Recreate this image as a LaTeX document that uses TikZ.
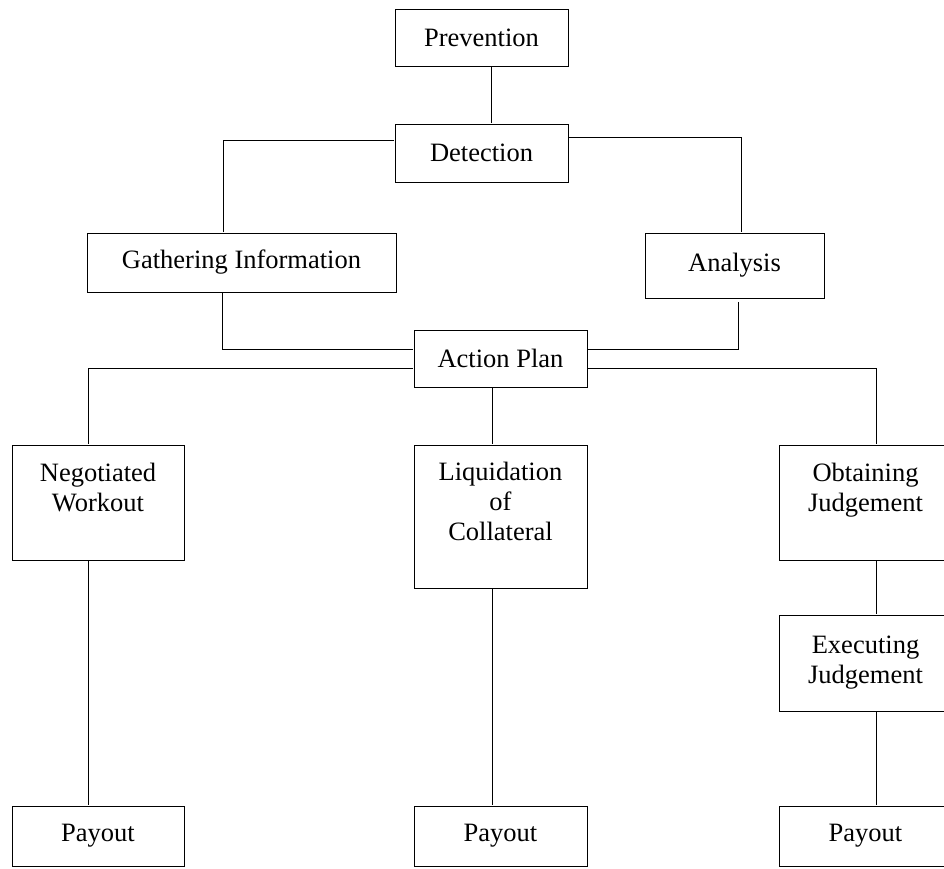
\documentclass[tikz,border=0pt]{standalone}
\usepackage{fontspec}
\setmainfont{Liberation Serif}
\newcommand{\dropdraw}[3]{%
  \draw ([xshift=#3]#1.south) -- ([xshift=#3]#2.north);
}
\usepackage{tikz}
\usetikzlibrary{
  calc,
  positioning
}

\begin{document}
\begin{tikzpicture}[x=1pt, y=-1pt]

\tikzset{
  stage/.style={
    draw,
    rectangle,
    fill=white,
    inner sep=0pt,
    align=center,
    font=\fontsize{26.5}{30}\selectfont
  },
  line width=1.8pt
}

\useasboundingbox (0,0) rectangle (944,869);

% NODES ----------------------------------------------------------

% Top of the chain
\node[stage, minimum width=173pt, minimum height=57pt] (prevent)  at (481.5, 37.5)  {Prevention};
\node[stage, minimum width=173pt, minimum height=58pt] (detect)   at (481.5, 153)   {Detection};

% Nodes gathering + analysis
\node[stage, minimum width=309pt, minimum height=59pt] (gather)   at (241.5, 262.5) {Gathering Information};
\node[stage, minimum width=179pt, minimum height=65pt] (analysis) at (734.5, 265.5) {Analysis};

\node[stage, minimum width=173pt, minimum height=57pt] (action)   at (500.5, 358.5) {Action Plan};

% Nodes recovery routes
\node[stage, minimum width=172pt, minimum height=115pt] (negot)   at (98, 502.5)    {Negotiated \\ Workout \\ ~};
\node[stage, minimum width=173pt, minimum height=143pt] (liquid)  at (500.5, 516.5) {Liquidation \\ of \\ Collateral \\ ~};
\node[stage, minimum width=173pt, minimum height=115pt] (obtain)  at (865.5, 502.5) {Obtaining \\ Judgement \\ ~};
\node[stage, minimum width=173pt, minimum height=96pt]  (execut)  at (865.5, 663)   {Executing \\ Judgement};

% Nodes payout
\node[stage, minimum width=172pt, minimum height=60pt] (payneg)   at (98, 836)      {Payout};
\node[stage, minimum width=173pt, minimum height=60pt] (payliq)   at (500.5, 836)   {Payout};
\node[stage, minimum width=173pt, minimum height=60pt] (payjud)   at (865.5, 836)   {Payout};

% DRAWS ---------------------------------------------------------

\dropdraw{prevent}{detect}{9.5pt}

% Detection splits to both sides
\draw ([yshift=13pt]detect.west) -| ([xshift=-18.5pt]gather.north);
\draw ([yshift=16pt]detect.east) -| ([xshift=6.5pt]analysis.north);

% Both sides join at the action plan
\draw ([xshift=-19.5pt]gather.south) |- ([yshift=9.5pt]action.west);
\draw ([xshift=3.5pt, yshift=-3pt]analysis.south) |- ([yshift=9.5pt]action.east);

% Action plan to the three routes
\draw ([yshift=-9.5pt]action.west) -| ([xshift=-10pt]negot.north);
\draw ([yshift=-9.5pt]action.east) -| ([xshift=10.5pt]obtain.north);
\dropdraw{action}{liquid}{-8.5pt}

% Routes down to payout
\dropdraw{negot}{payneg}{-10pt}
\dropdraw{liquid}{payliq}{-8.5pt}
\dropdraw{obtain}{execut}{10.5pt}
\dropdraw{execut}{payjud}{10.5pt}

\end{tikzpicture}
\end{document}
